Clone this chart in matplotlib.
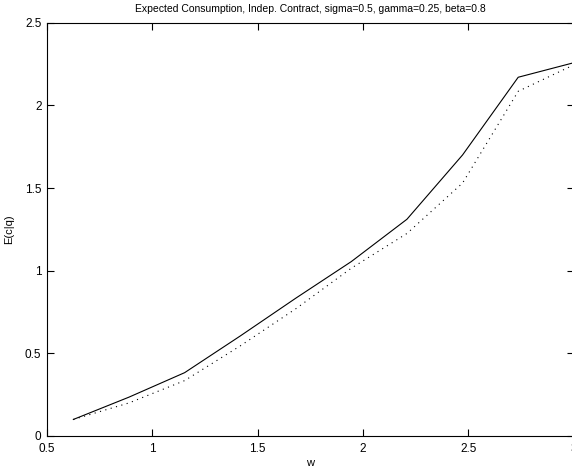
import matplotlib
matplotlib.use("Agg")
import matplotlib.pyplot as plt

# wealth grid and expected consumption
w = [0.625, 0.889, 1.153, 1.417, 1.681, 1.944, 2.208, 2.472, 2.736, 3.0]
ec_solid = [0.10, 0.235, 0.383, 0.605, 0.834, 1.055, 1.311, 1.70, 2.17, 2.258]
ec_dotted = [0.10, 0.20, 0.335, 0.545, 0.77, 1.015, 1.225, 1.53, 2.085, 2.245]

xticks = [0.5, 1, 1.5, 2, 2.5, 3]
yticks = [0, 0.5, 1, 1.5, 2, 2.5]

plt.rcParams['font.family'] = ['Liberation Sans', 'DejaVu Sans']

fig = plt.figure(figsize=(5.72, 4.68), dpi=100)
ax = fig.add_axes([0.0822, 0.0684, 0.921, 0.8831])

ax.plot(w, ec_solid, '-', color='black', lw=0.8)
ax.plot(w, ec_dotted, linestyle=(0, (1, 4)), color='black', lw=0.8)

ax.set_xlim(0.5, 3)
ax.set_ylim(0, 2.5)
ax.set_xticks(xticks)
ax.set_yticks(yticks)
ax.set_xticklabels([str(t) for t in xticks])
ax.set_yticklabels([str(t) for t in yticks])
ax.tick_params(direction='in', length=5, width=0.8, labelsize=8.5,
               top=True, right=True)
ax.tick_params(axis='x', pad=5)
ax.tick_params(axis='y', pad=4)
for s in ax.spines.values():
    s.set_linewidth(0.8)

ax.set_title("Expected Consumption, Indep. Contract, sigma=0.5, gamma=0.25, beta=0.8",
             fontsize=7.5, pad=8)
ax.set_xlabel("w", fontsize=8, labelpad=2)
ax.set_ylabel("E(c|q)", fontsize=8, labelpad=8)

fig.savefig("out.png", dpi=100)
